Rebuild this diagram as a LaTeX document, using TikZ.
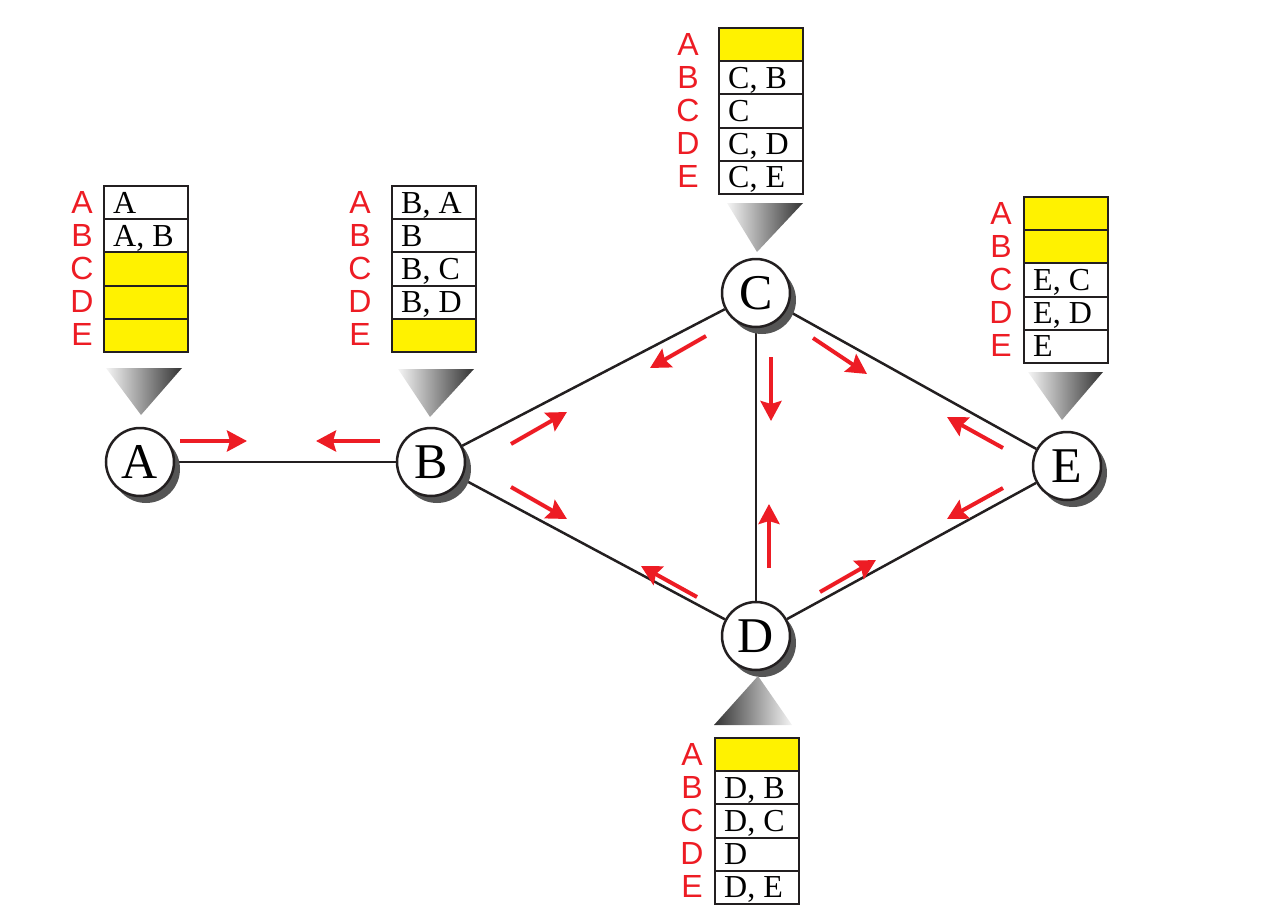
\documentclass[tikz,border=0pt]{standalone}
\usepackage{fontspec}
\setmainfont{Liberation Serif}
\newfontfamily\lblfont{Liberation Sans}
\usetikzlibrary{arrows.meta,shadows,backgrounds}
\definecolor{netred}{HTML}{ED1C24}
\definecolor{tblyellow}{HTML}{FFF200}
\definecolor{shadowgray}{HTML}{555555}
\definecolor{edgeblack}{HTML}{231F20}
\tikzset{
  router/.style={circle, draw=edgeblack, line width=2.5pt, fill=white, minimum size=68pt, inner sep=0pt,
    font=\fontsize{50}{50}\selectfont,
    drop shadow={shadow xshift=6pt, shadow yshift=-7pt, fill=shadowgray, opacity=1}},
  link/.style={draw=edgeblack, line width=2.5pt},
  flow/.style={draw=netred, line width=4pt, -{Stealth[length=20pt,width=21pt,inset=3pt]}},
  cellbox/.style={draw=edgeblack, line width=2pt},
  celltext/.style={anchor=base west, inner sep=0pt, font=\fontsize{32}{32}\selectfont, text=black},
  rowlabel/.style={anchor=base, inner sep=0pt, font=\lblfont\fontsize{32}{32}\selectfont, text=netred}
}
% #1 x, #2 y, #3 label offset, #4 fill/text list
\newcommand\routetable[4]{%
  \foreach \f/\t [count=\i from 0] in {#4} {
    \path[cellbox, fill=\f] (#1, #2+\i*33.2) rectangle (#1+84, #2+\i*33.2+33.2);
    \node[celltext] at (#1+9, #2+\i*33.2+27) {\t};
    \node[rowlabel] at (#1-#3, #2+\i*33.2+27) {\ifcase\i A\or B\or C\or D\or E\fi};
  }%
}
\begin{document}
\begin{tikzpicture}[x=1pt, y=-1pt]
\useasboundingbox (0,0) rectangle (1270,910);

% routers
\node[router] (A) at (140,462) {A};
\node[router] (B) at (431,462) {B};
\node[router] (C) at (756,293) {C};
\node[router] (D) at (756,636) {D};
\node[router] (E) at (1067,466) {E};

% links
\begin{scope}[on background layer]
\draw[link] (A) -- (B);
\draw[link] (B) -- (C);
\draw[link] (B) -- (D);
\draw[link] (C) -- (D);
\draw[link] (C) -- (E);
\draw[link] (D) -- (E);
\end{scope}

% red flow arrows
\draw[flow] (180,441) -- (247,441);
\draw[flow] (380,441) -- (316,441);
\draw[flow] (511,444) -- (567,412);
\draw[flow] (706,336) -- (650,368);
\draw[flow] (511,487) -- (567,519);
\draw[flow] (697,597) -- (641,566);
\draw[flow] (771,357) -- (771,421);
\draw[flow] (769,568) -- (769,504);
\draw[flow] (813,338) -- (867,374);
\draw[flow] (1003,448) -- (947,417);
\draw[flow] (1003,488) -- (947,519);
\draw[flow] (820,592) -- (876,560);

% pointer triangles
\shade[left color=gray!8, right color=black!80] (106,368) -- (182,368) -- (141,415) -- cycle;
\shade[left color=gray!8, right color=black!80] (398,369) -- (474,369) -- (430,417) -- cycle;
\shade[left color=gray!8, right color=black!80] (727,203) -- (803,203) -- (757,252) -- cycle;
\shade[left color=gray!8, right color=black!80] (1028,372) -- (1103,372) -- (1062,420) -- cycle;
\shade[left color=black!80, right color=gray!8] (714,725) -- (792,725) -- (758,676) -- cycle;

% routing tables
\routetable{104}{186}{22}{white/A, white/{A, B}, tblyellow/{}, tblyellow/{}, tblyellow/{}}
\routetable{392}{186}{32}{white/{B, A}, white/B, white/{B, C}, white/{B, D}, tblyellow/{}}
\routetable{719}{28}{31}{tblyellow/{}, white/{C, B}, white/C, white/{C, D}, white/{C, E}}
\routetable{1024}{197}{23}{tblyellow/{}, tblyellow/{}, white/{E, C}, white/{E, D}, white/E}
\routetable{715}{738}{23}{tblyellow/{}, white/{D, B}, white/{D, C}, white/D, white/{D, E}}
\end{tikzpicture}
\end{document}
